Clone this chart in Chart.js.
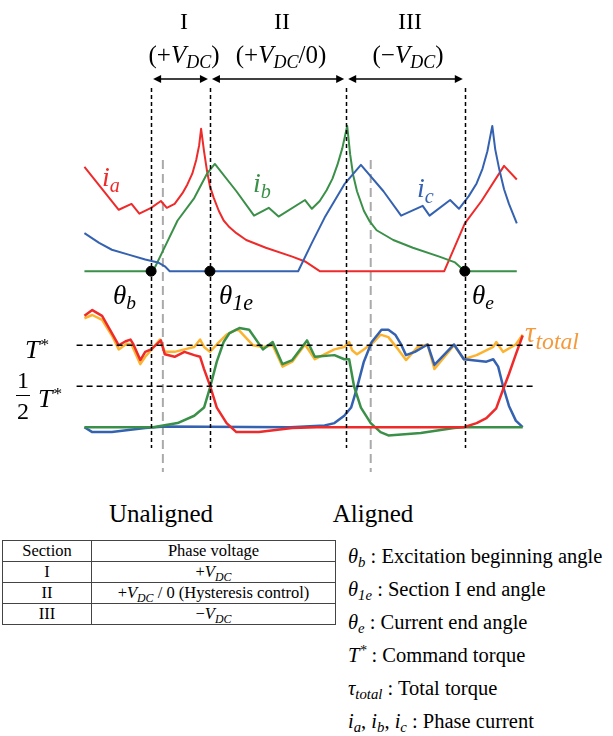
<!DOCTYPE html>
<html>
<head>
<meta charset="utf-8">
<script src="https://cdn.jsdelivr.net/npm/chart.js@4.4.0/dist/chart.umd.min.js"></script>
<style>
body{margin:0;background:#fff;width:613px;height:736px;position:relative;overflow:hidden;font-family:"Liberation Serif","Times New Roman",serif;color:#000;}
#chart{position:absolute;left:0;top:0;}
.t{position:absolute;white-space:nowrap;line-height:1;}
.c{transform:translate(-50%,-50%);}
.v{transform:translateY(-50%);}
.m{font-style:italic;}
sub{font-size:72%;vertical-align:-0.3em;line-height:0;}
sup{font-size:68%;vertical-align:0.45em;line-height:0;}
.big sub{font-size:82%;}
table{position:absolute;left:2px;top:540px;width:334px;border-collapse:collapse;font-size:16.5px;}
td{border:1px solid #444;height:20px;padding:0;text-align:center;line-height:1;}
.lg{position:absolute;left:348px;font-size:20.5px;white-space:nowrap;transform:translateY(-50%);line-height:1;}
.frac{position:absolute;left:16px;top:368px;font-size:24px;text-align:center;line-height:1;}
.frac div{padding:0 1px;}
.frac .bar{border-top:1.5px solid #000;height:0;margin:3px 0 3px 0;}
</style>
</head>
<body>
<canvas id="chart" width="613" height="480"></canvas>

<div class="t c" style="left:184px;top:21px;font-size:24px;">I</div>
<div class="t c" style="left:282px;top:21px;font-size:24px;">II</div>
<div class="t c" style="left:410px;top:21px;font-size:24px;">III</div>
<div class="t c" style="left:184px;top:54px;font-size:25px;">(+<span class="m">V<sub>DC</sub></span>)</div>
<div class="t c" style="left:281px;top:54px;font-size:25px;">(+<span class="m">V<sub>DC</sub></span>/0)</div>
<div class="t c" style="left:408px;top:54px;font-size:25px;">(&minus;<span class="m">V<sub>DC</sub></span>)</div>

<div class="t v m" style="left:102px;top:177px;font-size:28px;color:#ee2a2a;">i<sub>a</sub></div>
<div class="t v m" style="left:253px;top:183px;font-size:28px;color:#3a9048;">i<sub>b</sub></div>
<div class="t v m" style="left:417px;top:188px;font-size:28px;color:#3562b0;">i<sub>c</sub></div>

<div class="t v m" style="left:113px;top:295px;font-size:27px;">&theta;<sub>b</sub></div>
<div class="t v m big" style="left:219px;top:295px;font-size:27px;">&theta;<sub>1e</sub></div>
<div class="t v m" style="left:472px;top:295px;font-size:27px;">&theta;<sub>e</sub></div>

<div class="t v m" style="left:25px;top:350px;font-size:26px;">T<sup>*</sup></div>
<div class="frac"><div>1</div><div class="bar"></div><div>2</div></div>
<div class="t v m" style="left:38px;top:399px;font-size:26px;">T<sup>*</sup></div>
<div class="t v m big" style="left:525px;top:332px;font-size:29px;color:#f59a3c;">&tau;<sub>total</sub></div>

<div class="t c" style="left:161px;top:513px;font-size:25px;">Unaligned</div>
<div class="t c" style="left:373px;top:513px;font-size:25px;">Aligned</div>

<table>
<tr><td style="width:88px;">Section</td><td>Phase voltage</td></tr>
<tr><td>I</td><td>+<span class="m">V<sub>DC</sub></span></td></tr>
<tr><td>II</td><td>+<span class="m">V<sub>DC</sub></span> / 0 (Hysteresis control)</td></tr>
<tr><td>III</td><td>&minus;<span class="m">V<sub>DC</sub></span></td></tr>
</table>

<div class="lg" style="top:556px;"><span class="m">&theta;<sub>b</sub></span> : Excitation beginning angle</div>
<div class="lg" style="top:589px;"><span class="m">&theta;<sub>1e</sub></span> : Section I end angle</div>
<div class="lg" style="top:622px;"><span class="m">&theta;<sub>e</sub></span> : Current end angle</div>
<div class="lg" style="top:655px;"><span class="m">T<sup>*</sup></span> : Command torque</div>
<div class="lg" style="top:688px;"><span class="m">&tau;<sub>total</sub></span> : Total torque</div>
<div class="lg" style="top:721px;"><span class="m">i<sub>a</sub></span>, <span class="m">i<sub>b</sub></span>, <span class="m">i<sub>c</sub></span> : Phase current</div>

<script>
// rotor angle (arbitrary units), phase currents [A], torques [per unit of T*]
const sectionAngles = [148, 208, 347, 468];   // theta_b, theta_1e, end of II, theta_e
const markedAngles = [148, 208, 468];         // theta_b, theta_1e, theta_e
const positionAngles = [160, 372];            // unaligned, aligned
const torqueRefs = [1.0, 0.5];                // T*, T*/2

const ia = [[80,10.7],[115,6.3],[128,6.9],[136,5.9],[148,6.5],[158,7.2],[164,6.5],[172,6.9],[180,8.0],[185,8.9],[190,10.0],
  [194,11.4],[197,12.9],[199,14.6],[202,12.3],[205,10.3],[208,8.7],[212,7.5],[217,6.2],[222,5.2],[228,4.5],[235,3.9],
  [245,3.2],[265,2.4],[292,1.5],[305,1.0],[320,0],[447,0],[468,4.9],[485,7.2],[508,10.8],[521,9.4]];
const ib = [[80,0],[150,0],[162,2.5],[175,5.2],[192,7.5],[205,10.0],[213,11.0],[235,8.2],[253,5.7],[268,6.5],[278,5.6],[305,7.3],
  [312,6.4],[320,7.2],[327,8.3],[333,9.5],[338,10.9],[343,12.6],[348,14.9],[351,12.0],[354,9.9],[358,8.2],[365,6.2],[371,5.1],
  [378,4.2],[395,3.2],[415,2.4],[442,1.5],[458,0.9],[468,0],[521,0]];
const ic = [[80,3.9],[95,2.9],[108,2.2],[125,1.7],[142,1.2],[155,0.9],[162,0.5],[167,0],[298,0],[312,2.9],[325,5.5],[345,8.9],
  [362,10.9],[385,8.2],[403,5.7],[425,6.7],[432,5.7],[453,7.3],[462,6.4],[472,7.7],[480,9.0],[486,10.5],[491,12.3],[496,14.9],
  [499,12.5],[503,10.5],[508,8.4],[513,6.9],[521,4.9]];

const ta = [[80,1.36],[88,1.43],[98,1.36],[108,1.15],[115,1.0],[122,1.05],[127,1.07],[130,1.01],[137,0.82],[142,0.92],[148,0.95],
  [158,1.06],[162,0.89],[172,0.86],[182,0.92],[192,0.88],[198,0.86],[202,0.71],[208,0.51],[215,0.24],[225,0.05],[235,-0.06],
  [258,-0.06],[292,-0.01],[317,0],[467,0],[480,0.05],[490,0.11],[500,0.23],[507,0.46],[513,0.65],[520,0.89],[527,1.12]];
const tb = [[80,0],[150,0],[175,0.05],[192,0.14],[202,0.24],[208,0.48],[215,0.80],[222,1.04],[228,1.15],[238,1.21],[248,1.19],
  [262,0.95],[272,1.04],[282,0.77],[292,0.82],[307,1.06],[315,0.86],[335,0.88],[345,0.83],[350,0.83],[355,0.5],[362,0.24],
  [372,0.05],[382,-0.06],[390,-0.1],[423,-0.07],[457,-0.01],[467,0],[527,0]];
const tc = [[80,0],[88,-0.06],[108,-0.06],[142,-0.01],[162,0.01],[290,0],[325,0.02],[335,0.05],[345,0.14],[352,0.24],[358,0.48],
  [365,0.80],[373,1.04],[383,1.19],[390,1.19],[397,1.13],[403,1.01],[408,0.88],[417,0.92],[430,1.01],[437,0.76],[457,1.01],
  [467,0.83],[490,0.80],[497,0.83],[502,0.74],[507,0.5],[513,0.26],[520,0.08],[527,0]];
const tTotal = [[80,1.33],[88,1.37],[98,1.31],[108,1.12],[115,0.95],[123,1.02],[128,1.01],[137,0.77],[142,0.86],[148,0.94],
  [157,1.07],[162,0.92],[172,0.92],[182,0.95],[192,0.98],[198,1.07],[202,0.98],[208,0.92],[215,1.01],[225,1.13],[235,1.19],
  [238,1.18],[252,1.0],[262,0.98],[272,1.0],[282,0.74],[292,0.80],[305,1.01],[315,0.83],[335,0.95],[345,0.98],[350,1.04],
  [353,0.94],[358,0.89],[365,0.95],[375,1.04],[382,1.13],[390,1.10],[400,0.95],[408,0.82],[420,0.98],[430,1.01],[437,0.71],
  [457,1.0],[467,0.83],[480,0.88],[497,0.98],[500,1.04],[507,0.92],[520,1.01],[527,1.13]];

const RED = 'rgb(238,42,42)', GREEN = 'rgb(58,144,72)', BLUE = 'rgb(53,98,176)', ORANGE = 'rgb(252,180,48)';

function pts(arr){ return arr.map(p => ({x: p[0], y: p[1]})); }

function curve(arr, color, axis, width, order){
  return {data: pts(arr), borderColor: color, borderWidth: width, yAxisID: axis, order: order,
    pointRadius: 0, fill: false, tension: 0, borderJoinStyle: 'round'};
}

const datasets = [
  {data: markedAngles.map(a => ({x: a, y: 0})), yAxisID: 'yI', showLine: false, pointRadius: 5,
   backgroundColor: '#000', borderColor: '#000', order: 0},
  curve(ia, RED, 'yI', 2, 3),
  curve(ib, GREEN, 'yI', 2, 2),
  curve(ic, BLUE, 'yI', 2, 1),
  curve(tTotal, ORANGE, 'yT', 2.5, 8),
  curve(ta, RED, 'yT', 2.5, 5),
  curve(tb, GREEN, 'yT', 2.5, 6),
  curve(tc, BLUE, 'yT', 2.5, 7)
];
torqueRefs.forEach(r => datasets.push({data: [{x: 72, y: r}, {x: 540, y: r}], yAxisID: 'yT', borderColor: '#000',
  borderWidth: 1.5, borderDash: [6, 4], pointRadius: 0, order: 4}));

// guide lines: grey position markers, black section boundaries and the section arrows
const guides = {
  id: 'guides',
  beforeDatasetsDraw(chart){
    const ctx = chart.ctx, x = chart.scales.x;
    ctx.save();
    ctx.strokeStyle = '#aaaaaa';
    ctx.lineWidth = 2;
    ctx.setLineDash([9, 5]);
    positionAngles.forEach(a => {
      ctx.beginPath(); ctx.moveTo(x.getPixelForValue(a), 160); ctx.lineTo(x.getPixelForValue(a), 472); ctx.stroke();
    });
    ctx.restore();
  },
  afterDatasetsDraw(chart){
    const ctx = chart.ctx, x = chart.scales.x;
    ctx.save();
    ctx.strokeStyle = '#000';
    ctx.lineWidth = 1.5;
    ctx.setLineDash([4, 3]);
    sectionAngles.forEach(a => {
      const px = Math.round(x.getPixelForValue(a)) + 0.5;
      ctx.beginPath(); ctx.moveTo(px, 88); ctx.lineTo(px, 448); ctx.stroke();
    });
    ctx.setLineDash([]);
    ctx.fillStyle = '#000';
    const y = 79;
    for (let i = 0; i < sectionAngles.length - 1; i++) {
      const a = x.getPixelForValue(sectionAngles[i]) + 2, b = x.getPixelForValue(sectionAngles[i + 1]) - 2;
      ctx.beginPath(); ctx.moveTo(a + 6, y); ctx.lineTo(b - 6, y); ctx.stroke();
      ctx.beginPath(); ctx.moveTo(a, y); ctx.lineTo(a + 8, y - 4); ctx.lineTo(a + 8, y + 4); ctx.closePath(); ctx.fill();
      ctx.beginPath(); ctx.moveTo(b, y); ctx.lineTo(b - 8, y - 4); ctx.lineTo(b - 8, y + 4); ctx.closePath(); ctx.fill();
    }
    ctx.restore();
  }
};

// currents: zero at 272 px, 10 px per A; torque: zero at 432 px, 84 px per T*
const H = 480;
new Chart(document.getElementById('chart'), {
  type: 'line',
  data: {datasets: datasets},
  options: {
    responsive: false,
    animation: false,
    layout: {padding: 0},
    plugins: {legend: {display: false}, tooltip: {enabled: false}},
    scales: {
      x: {type: 'linear', min: 0, max: 613, display: false},
      yI: {type: 'linear', min: -(H - 272) / 10, max: 272 / 10, display: false},
      yT: {type: 'linear', min: -(H - 432) / 84, max: 432 / 84, display: false}
    }
  },
  plugins: [guides]
});
</script>
</body>
</html>
